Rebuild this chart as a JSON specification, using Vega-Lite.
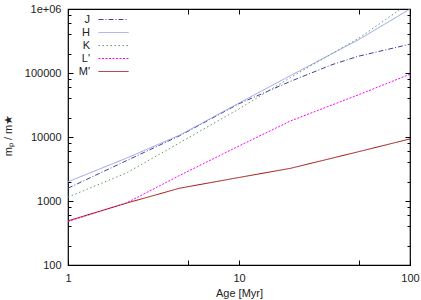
{
  "$schema": "https://vega.github.io/schema/vega-lite/v6.json",
  "width": 342,
  "height": 256,
  "autosize": "none",
  "padding": {"left": 68, "top": 9, "right": 11, "bottom": 35},
  "config": {
    "view": {"stroke": "#000000", "strokeWidth": 1.2},
    "font": "Liberation Sans",
    "axis": {"labelFont": "Liberation Sans", "labelFontSize": 11, "labelColor": "#222222", "titleFont": "Liberation Sans", "titleFontSize": 11, "titleFontWeight": "normal", "titleColor": "#222222", "grid": false, "domain": false, "tickColor": "#000000", "tickWidth": 1}
  },
  "data": {"values": [
    {"band": "J", "age": 1, "ratio": 1585},
    {"band": "J", "age": 2.2, "ratio": 4270},
    {"band": "J", "age": 4.5, "ratio": 10470},
    {"band": "J", "age": 10, "ratio": 33100},
    {"band": "J", "age": 20, "ratio": 74100},
    {"band": "J", "age": 35, "ratio": 135000},
    {"band": "J", "age": 50, "ratio": 183000},
    {"band": "J", "age": 100, "ratio": 282000},
    {"band": "H", "age": 1, "ratio": 2000},
    {"band": "H", "age": 2.2, "ratio": 4680},
    {"band": "H", "age": 4.5, "ratio": 10700},
    {"band": "H", "age": 10, "ratio": 33900},
    {"band": "H", "age": 20, "ratio": 91200},
    {"band": "H", "age": 50, "ratio": 331000},
    {"band": "H", "age": 100, "ratio": 1000000},
    {"band": "K", "age": 1, "ratio": 1150},
    {"band": "K", "age": 2.2, "ratio": 2750},
    {"band": "K", "age": 4.5, "ratio": 8130},
    {"band": "K", "age": 10, "ratio": 27500},
    {"band": "K", "age": 20, "ratio": 85100},
    {"band": "K", "age": 50, "ratio": 347000},
    {"band": "K", "age": 100, "ratio": 1260000},
    {"band": "L'", "age": 1, "ratio": 479},
    {"band": "L'", "age": 2.2, "ratio": 933},
    {"band": "L'", "age": 4.5, "ratio": 2510},
    {"band": "L'", "age": 10, "ratio": 7240},
    {"band": "L'", "age": 20, "ratio": 17800},
    {"band": "L'", "age": 50, "ratio": 45700},
    {"band": "L'", "age": 100, "ratio": 95500},
    {"band": "M'", "age": 1, "ratio": 490},
    {"band": "M'", "age": 2.2, "ratio": 927},
    {"band": "M'", "age": 4.5, "ratio": 1585},
    {"band": "M'", "age": 10, "ratio": 2330},
    {"band": "M'", "age": 20, "ratio": 3240},
    {"band": "M'", "age": 50, "ratio": 5890},
    {"band": "M'", "age": 100, "ratio": 9330}
  ]},
  "resolve": {"axis": {"x": "independent", "y": "independent"}},
  "layer": [
    {
      "mark": {"type": "line", "clip": true},
      "encoding": {
        "x": {"field": "age", "type": "quantitative",
          "scale": {"type": "log", "domain": [1, 100], "nice": false},
          "axis": {"title": "Age [Myr]", "values": [1, 5, 10, 50, 100],
            "labelExpr": "datum.value == 1 || datum.value == 10 || datum.value == 100 ? datum.value : ''",
            "tickSize": -5, "labelPadding": 12, "titleBaseline": "middle", "titleY": 28, "labelFlush": false}},
        "y": {"field": "ratio", "type": "quantitative",
          "scale": {"type": "log", "domain": [100, 1000000], "nice": false},
          "axis": {"title": "mₚ / m★",
            "values": [100, 200, 400, 600, 800, 1000, 2000, 4000, 6000, 8000, 10000, 20000, 40000, 60000, 80000, 100000, 200000, 400000, 600000, 800000, 1000000],
            "labelExpr": "datum.value == 1000000 ? '1e+06' : (datum.value == 100 || datum.value == 1000 || datum.value == 10000 || datum.value == 100000 ? format(datum.value, 'd') : '')",
            "tickSize": {"condition": {"test": "datum.value == 100 || datum.value == 1000 || datum.value == 10000 || datum.value == 100000 || datum.value == 1000000", "value": -5}, "value": -3},
            "labelPadding": 12, "titleX": -60, "titleY": 126, "titleBaseline": "middle", "titleAngle": 270, "labelFlush": false}},
        "color": {"field": "band", "type": "nominal",
          "scale": {"domain": ["J", "H", "K", "L'", "M'"], "range": ["#40409a", "#9c9cf0", "#5f9f5f", "#ff00ff", "#a01010"]},
          "legend": {"title": null, "orient": "none", "legendX": 25, "legendY": 5, "symbolType": "M-3,0L3,0", "symbolSize": 100, "symbolOffset": 15, "rowPadding": 1, "labelAlign": "right", "labelOffset": -29, "labelFontSize": 11, "labelColor": "#222222", "labelFont": "Liberation Sans"}},
        "strokeDash": {"field": "band", "type": "nominal",
          "scale": {"domain": ["J", "H", "K", "L'", "M'"], "range": [[5, 2, 1, 2], [1, 0], [1.5, 2.5], [2, 1.5], [1, 0]]}},
        "strokeWidth": {"field": "band", "type": "nominal",
          "scale": {"domain": ["J", "H", "K", "L'", "M'"], "range": [1, 1, 1, 2.5, 2]}}
      }
    },
    {
      "mark": {"type": "line", "opacity": 0, "clip": true},
      "encoding": {
        "x": {"field": "age", "type": "quantitative",
          "axis": {"orient": "top", "title": null, "labels": false, "values": [1, 5, 10, 50, 100], "tickSize": -5}},
        "y": {"field": "ratio", "type": "quantitative",
          "axis": {"orient": "right", "title": null, "labels": false,
            "values": [100, 200, 400, 600, 800, 1000, 2000, 4000, 6000, 8000, 10000, 20000, 40000, 60000, 80000, 100000, 200000, 400000, 600000, 800000, 1000000],
            "tickSize": {"condition": {"test": "datum.value == 100 || datum.value == 1000 || datum.value == 10000 || datum.value == 100000 || datum.value == 1000000", "value": -5}, "value": -3}}},
        "detail": {"field": "band", "type": "nominal"}
      }
    }
  ]
}
